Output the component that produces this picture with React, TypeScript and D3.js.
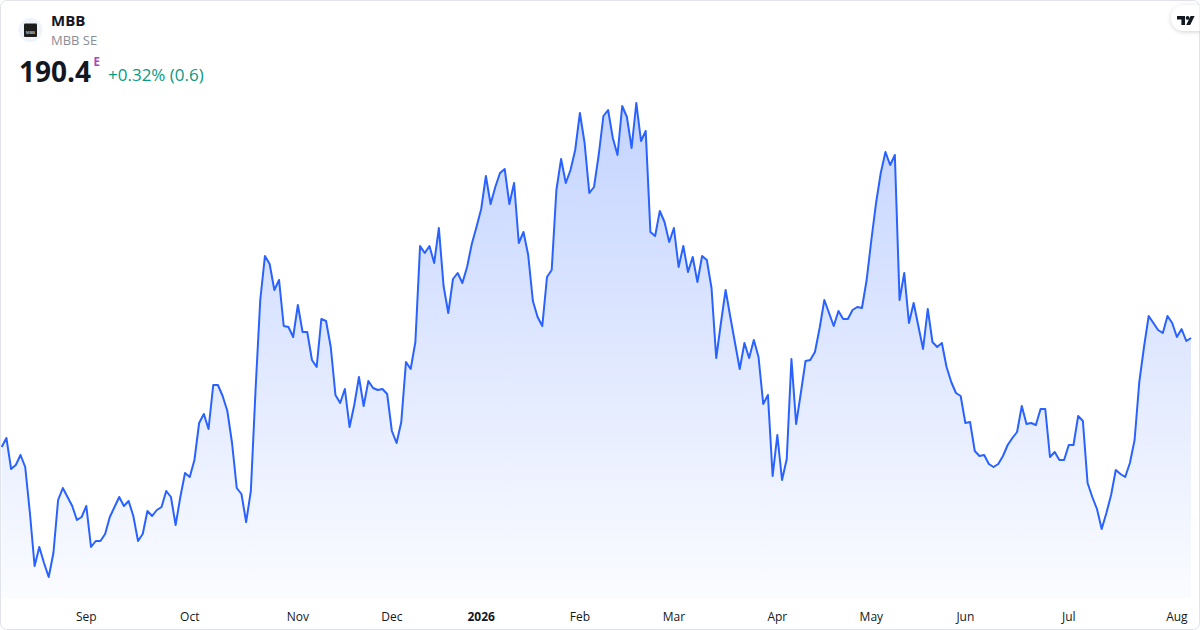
import * as d3 from "d3";

const W = 1200;
const H = 630;

// Xetra trading days, Aug 6 2025 .. Aug 6 2026
const START = [2025, 7, 6];
const END = [2026, 7, 6];
const HOLIDAYS = [
  "2025-12-24", "2025-12-25", "2025-12-26", "2025-12-31",
  "2026-01-01", "2026-04-03", "2026-04-06", "2026-05-01",
];

const PRICES = [
  168.6, 170.4, 164.2, 165.0, 167.0, 164.6, 155.4, 144.8, 148.6, 145.4, 142.6, 147.4, 158.0, 160.4, 158.6, 156.8,
  154.0, 154.6, 156.8, 148.6, 149.8, 149.8, 151.2, 154.6, 156.6, 158.6, 156.8, 157.8, 154.8, 149.8, 151.2, 155.8,
  154.8, 156.0, 156.6, 159.8, 158.6, 153.0, 158.6, 163.4, 162.6, 166.0, 173.4, 175.2, 172.2, 181.0, 181.0, 178.8,
  175.8, 169.4, 160.4, 159.2, 153.6, 159.8, 180.0, 198.0, 206.8, 205.2, 200.0, 202.0, 192.8, 192.6, 190.6, 197.0,
  191.6, 191.6, 186.0, 184.6, 194.2, 193.8, 188.6, 179.0, 177.4, 180.2, 172.6, 177.0, 182.6, 176.8, 181.8, 180.4,
  180.0, 180.2, 179.2, 171.8, 169.4, 173.6, 185.6, 184.2, 189.6, 208.8, 207.4, 208.8, 205.4, 212.4, 200.8, 195.4,
  202.2, 203.4, 201.4, 204.6, 209.2, 212.6, 216.2, 222.8, 217.2, 220.6, 223.4, 224.2, 217.2, 221.4, 209.4, 211.6,
  207.0, 197.8, 194.6, 192.8, 202.6, 204.0, 220.0, 226.2, 221.4, 224.0, 228.0, 235.4, 229.4, 219.4, 220.6, 227.0,
  234.8, 236.0, 230.4, 227.0, 236.8, 234.6, 228.4, 237.4, 229.8, 231.8, 211.6, 210.8, 215.8, 213.6, 209.6, 212.4,
  204.6, 208.8, 203.6, 206.6, 201.6, 206.8, 206.0, 200.4, 186.4, 193.4, 200.0, 194.6, 189.4, 184.2, 189.4, 186.4,
  190.0, 186.6, 177.2, 179.0, 162.8, 171.0, 162.0, 166.2, 186.2, 173.2, 179.4, 185.8, 186.0, 187.6, 192.4, 198.0,
  195.4, 192.8, 195.8, 194.2, 194.2, 196.0, 196.6, 196.4, 202.0, 210.0, 217.4, 223.4, 227.6, 225.0, 227.0, 198.0,
  203.4, 193.4, 197.4, 192.8, 188.2, 196.2, 189.6, 188.6, 189.4, 184.6, 181.6, 179.4, 178.8, 173.4, 173.6, 167.8,
  166.8, 167.0, 165.2, 164.6, 165.2, 166.8, 169.0, 170.4, 171.6, 176.8, 173.2, 173.4, 173.0, 176.2, 176.2, 166.6,
  167.6, 166.0, 166.0, 169.0, 169.0, 174.8, 173.8, 161.4, 158.6, 156.2, 152.2, 155.4, 159.0, 164.0, 163.2, 162.6,
  165.4, 170.0, 181.6, 188.6, 194.8, 193.4, 192.0, 191.4, 194.8, 193.4, 190.6, 192.2, 189.8, 190.4,
];

const MONTH_LABELS = ["Sep", "Oct", "Nov", "Dec", "2026", "Feb", "Mar", "Apr", "May", "Jun", "Jul", "Aug"];

const FONT = "'Open Sans', 'Noto Sans', sans-serif";
const BLUE = "#2962ff";

const iso = d3.utcFormat("%Y-%m-%d");
const days = d3
  .utcDays(new Date(Date.UTC(START[0], START[1], START[2])), new Date(Date.UTC(END[0], END[1], END[2] + 1)))
  .filter((d) => d.getUTCDay() !== 0 && d.getUTCDay() !== 6 && !HOLIDAYS.includes(iso(d)));

// first trading day of every month
const monthStarts: number[] = [];
days.forEach((d, i) => {
  if (i > 0 && d.getUTCMonth() !== days[i - 1].getUTCMonth()) monthStarts.push(i);
});

export default function App() {
  const x = d3.scaleLinear().domain([0, PRICES.length - 1]).range([1.7, 1191]);
  const y = d3.scaleLinear().domain([140, 240]).range([590, 90]);
  const baseY = 598;

  const line = d3
    .line<number>()
    .x((_, i) => x(i))
    .y((d) => y(d));
  const area = d3
    .area<number>()
    .x((_, i) => x(i))
    .y0(baseY)
    .y1((d) => y(d));

  const last = PRICES[PRICES.length - 1];
  const prev = PRICES[PRICES.length - 2];
  const chg = last - prev;
  const pct = (chg / prev) * 100;
  const sign = chg >= 0 ? "+" : "";

  return (
    <>
      <style>{"body{margin:0}"}</style>
      <svg width={W} height={H} style={{ display: "block", fontFamily: FONT }}>
        <defs>
          <linearGradient id="fill" gradientUnits="userSpaceOnUse" x1={0} y1={90} x2={0} y2={baseY}>
            <stop offset="0" stopColor={BLUE} stopOpacity={0.28} />
            <stop offset="1" stopColor={BLUE} stopOpacity={0.02} />
          </linearGradient>
          <clipPath id="frame">
            <rect x={0.5} y={0.5} width={W - 1} height={H - 1} rx={6} />
          </clipPath>
          <filter id="shadow" x="-50%" y="-50%" width="200%" height="200%">
            <feDropShadow dx={0} dy={1} stdDeviation={2} floodColor="#000" floodOpacity={0.18} />
          </filter>
        </defs>

        <rect x={0.5} y={0.5} width={W - 1} height={H - 1} rx={6} fill="#fff" stroke="#e0e3eb" />

        <g clipPath="url(#frame)">
          <path d={area(PRICES) ?? ""} fill="url(#fill)" />
          <path d={line(PRICES) ?? ""} fill="none" stroke={BLUE} strokeWidth={2} strokeLinejoin="round" />

          {/* time axis */}
          {monthStarts.map((idx, k) => (
            <text
              key={idx}
              x={x(idx)}
              y={621}
              textAnchor="middle"
              fontSize={12}
              fill="#131722"
              fontWeight={MONTH_LABELS[k] === "2026" ? 700 : 400}
            >
              {MONTH_LABELS[k]}
            </text>
          ))}

          {/* TradingView badge */}
          <rect x={1171} y={5} width={50} height={26} rx={13} fill="#fff" filter="url(#shadow)" />
          <path d="M1177,16 H1185 V25 H1181.4 V19.4 H1177 Z" fill="#131722" />
          <circle cx={1187.6} cy={17.9} r={1.9} fill="#131722" />
          <path d="M1190.6,16 H1194.6 L1190.2,25 H1186.2 Z" fill="#131722" />
        </g>

        {/* header */}
        <circle cx={30.5} cy={30} r={12} fill="#f0f3fa" />
        <rect x={24} y={23.5} width={13} height={13.5} rx={1} fill="#1c1c1c" />
        <text x={30.5} y={33.5} textAnchor="middle" fontSize={4} fill="#fff">MBB</text>

        <text x={51} y={26} fontSize={15} fontWeight={700} fill="#131722">MBB</text>
        <text x={51} y={45} fontSize={13} fill="#8a8d96">MBB SE</text>

        <text x={19} y={81.5} fontSize={28} fontWeight={700} fill="#131722">{last.toFixed(1)}</text>
        <text x={93.5} y={65.5} fontSize={11.5} fontWeight={700} fill="#ab47bc">E</text>
        <text x={108} y={81} fontSize={17} fill="#089981">
          {`${sign}${pct.toFixed(2)}% (${chg.toFixed(1)})`}
        </text>
      </svg>
    </>
  );
}
